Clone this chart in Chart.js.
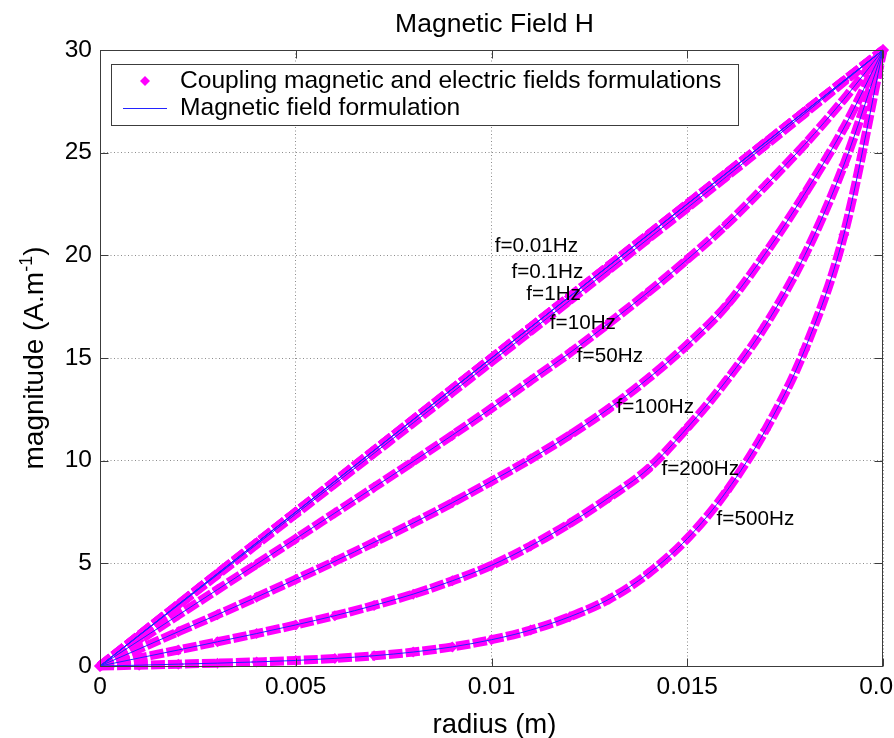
<!DOCTYPE html>
<html>
<head>
<meta charset="utf-8">
<script src="https://cdn.jsdelivr.net/npm/chart.js@4.4.0/dist/chart.umd.min.js"></script>
<style>
html, body { margin: 0; padding: 0; background: #fff; overflow: hidden; }
#wrap { width: 894px; height: 738px; overflow: hidden; }
</style>
</head>
<body>
<div id="wrap"><canvas id="fieldChart" width="920" height="738"></canvas></div>
<script>
// radius samples (m)
const radius = [0, 0.001, 0.002, 0.003, 0.004, 0.005, 0.006, 0.007, 0.008, 0.009, 0.010,
                0.011, 0.012, 0.013, 0.014, 0.015, 0.016, 0.017, 0.018, 0.019, 0.020];

// field magnitude H (A/m) for each frequency
const h001 = [0, 1.5, 3, 4.5, 6, 7.5, 9, 10.5, 12, 13.5, 15, 16.5, 18, 19.5, 21, 22.5, 24, 25.5, 27, 28.5, 30];
const h01  = [0, 1.5, 3, 4.5, 6, 7.5, 9, 10.5, 12, 13.5, 15, 16.5, 18, 19.5, 21, 22.5, 24, 25.5, 27, 28.5, 30];
const h1   = [0, 1.5, 2.99, 4.49, 5.99, 7.49, 8.99, 10.49, 11.99, 13.49, 14.99, 16.49, 17.99, 19.49, 20.99, 22.49, 23.99, 25.49, 27, 28.5, 30];
const h10  = [0, 1.48, 2.96, 4.44, 5.92, 7.4, 8.88, 10.36, 11.84, 13.33, 14.82, 16.31, 17.8, 19.3, 20.8, 22.31, 23.83, 25.36, 26.9, 28.45, 30];
const h50  = [0, 1.24, 2.48, 3.72, 4.96, 6.2, 7.45, 8.7, 9.96, 11.24, 12.55, 13.9, 15.25, 16.7, 18.2, 19.8, 21.5, 23.4, 25.4, 27.6, 30];
const h100 = [0, 0.83, 1.67, 2.5, 3.35, 4.22, 5.1, 6.02, 6.96, 7.95, 9.0, 10.08, 11.25, 12.54, 14.0, 15.64, 17.55, 20.1, 23.0, 26.2, 30];
const h200 = [0, 0.39, 0.78, 1.18, 1.58, 2.0, 2.45, 2.95, 3.5, 4.15, 4.9, 5.85, 6.95, 8.2, 9.6, 11.6, 13.9, 16.6, 20.0, 24.4, 30];
const h500 = [0, 0.04, 0.09, 0.14, 0.2, 0.27, 0.37, 0.5, 0.68, 0.93, 1.28, 1.75, 2.4, 3.25, 4.5, 6.2, 8.5, 11.5, 15.4, 21.0, 30];

const curveNames = ['f=0.01Hz', 'f=0.1Hz', 'f=1Hz', 'f=10Hz', 'f=50Hz', 'f=100Hz', 'f=200Hz', 'f=500Hz'];
// where each frequency tag sits (data units)
const tagR = [0.01008, 0.01051, 0.01089, 0.01149, 0.01218, 0.01319, 0.01434, 0.01575];
const tagH = [20.44, 19.15, 18.09, 16.68, 15.07, 12.58, 9.57, 7.13];

const xTickValues = [0, 0.005, 0.01, 0.015, 0.02];
const xTickLabels = ['0', '0.005', '0.01', '0.015', '0.02'];
const yTickValues = [0, 5, 10, 15, 20, 25, 30];
const yTickLabels = ['0', '5', '10', '15', '20', '25', '30'];

const legendNames = ['Coupling magnetic and electric fields formulations', 'Magnetic field formulation'];

const FONT = '"Liberation Sans", Arial, Helvetica, sans-serif';
const MAGENTA = '#ff00ff';
const BLUE = '#2323ff';
const FRAME = '#3c3c3c';

// build datasets: thick magenta band under thin blue line
let curves = [h001, h01, h1, h10, h50, h100, h200, h500];
let datasets = [];
curves.forEach(function(vals) {
	let pts = radius.map(function(r, i) { return {x: r, y: vals[i]}; });
	datasets.push({
		data: pts,
		order: 0,
		showLine: true,
		borderColor: BLUE,
		borderWidth: 1,
		pointRadius: 0,
		cubicInterpolationMode: 'monotone',
		clip: false
	});
	datasets.push({
		data: pts,
		order: 1,
		showLine: true,
		borderColor: MAGENTA,
		borderWidth: 9,
		borderDash: [14, 3],
		pointStyle: 'rectRot',
		pointRadius: 5.5,
		pointBackgroundColor: MAGENTA,
		pointBorderWidth: 0,
		cubicInterpolationMode: 'monotone',
		clip: false
	});
});

const framePlugin = {
	id: 'matlabFrame',
	afterDatasetsDraw(chart) {
		let ctx = chart.ctx;
		let a = chart.chartArea;
		let xs = chart.scales.x;
		let ys = chart.scales.y;
		ctx.save();

		//frequency tags
		ctx.font = '20.7px ' + FONT;
		ctx.fillStyle = '#000';
		ctx.textAlign = 'left';
		ctx.textBaseline = 'middle';
		curveNames.forEach(function(name, i) {
			ctx.fillText(name, xs.getPixelForValue(tagR[i]), ys.getPixelForValue(tagH[i]));
		});

		//axes box
		let L = Math.round(a.left) + 0.5, R = Math.round(a.right) - 0.5;
		let T = Math.round(a.top) + 0.5, B = Math.round(a.bottom) + 0.5;
		ctx.strokeStyle = FRAME;
		ctx.lineWidth = 1;
		ctx.strokeRect(L, T, R - L, B - T);

		//inward tick marks on all four sides
		let tl = 8;
		ctx.beginPath();
		xTickValues.forEach(function(v) {
			let px = Math.round(xs.getPixelForValue(v)) + 0.5;
			ctx.moveTo(px, B); ctx.lineTo(px, B - tl);
			ctx.moveTo(px, T); ctx.lineTo(px, T + tl);
		});
		yTickValues.forEach(function(v) {
			let py = Math.round(ys.getPixelForValue(v)) + 0.5;
			ctx.moveTo(L, py); ctx.lineTo(L + tl, py);
			ctx.moveTo(R, py); ctx.lineTo(R - tl, py);
		});
		ctx.stroke();

		//legend box
		let lx = a.left + 11, ly = a.top + 14, lw = 627, lh = 61;
		ctx.fillStyle = '#fff';
		ctx.fillRect(lx, ly, lw, lh);
		ctx.strokeStyle = FRAME;
		ctx.strokeRect(Math.round(lx) + 0.5, Math.round(ly) + 0.5, lw, lh);

		let mx = lx + 34, row1 = ly + 17, row2 = ly + 44;
		ctx.fillStyle = MAGENTA;
		ctx.beginPath();
		ctx.moveTo(mx, row1 - 5); ctx.lineTo(mx + 5, row1);
		ctx.lineTo(mx, row1 + 5); ctx.lineTo(mx - 5, row1);
		ctx.closePath();
		ctx.fill();

		ctx.strokeStyle = BLUE;
		ctx.beginPath();
		ctx.moveTo(mx - 22, Math.round(row2) + 0.5);
		ctx.lineTo(mx + 22, Math.round(row2) + 0.5);
		ctx.stroke();

		ctx.fillStyle = '#000';
		ctx.font = '24.6px ' + FONT;
		ctx.textAlign = 'left';
		ctx.textBaseline = 'middle';
		ctx.fillText(legendNames[0], lx + 69, row1);
		ctx.fillText(legendNames[1], lx + 69, row2);

		//title
		ctx.font = '26.5px ' + FONT;
		ctx.textAlign = 'center';
		ctx.textBaseline = 'alphabetic';
		ctx.fillText('Magnetic Field H', (a.left + a.right) / 2 + 3, 32);

		//x axis label
		ctx.font = '27.5px ' + FONT;
		ctx.fillText('radius (m)', (a.left + a.right) / 2 + 3, 733);

		//y axis label with superscript
		let mainTxt = 'magnitude (A.m';
		let supTxt = '-1';
		let endTxt = ')';
		let bigFont = '28px ' + FONT;
		let supFont = '18px ' + FONT;
		ctx.font = bigFont;
		let w1 = ctx.measureText(mainTxt).width;
		let w3 = ctx.measureText(endTxt).width;
		ctx.font = supFont;
		let w2 = ctx.measureText(supTxt).width;
		let total = w1 + w2 + w3;
		ctx.translate(43, (a.top + a.bottom) / 2);
		ctx.rotate(-Math.PI / 2);
		ctx.textAlign = 'left';
		ctx.font = bigFont;
		ctx.fillText(mainTxt, -total / 2, 0);
		ctx.font = supFont;
		ctx.fillText(supTxt, -total / 2 + w1, -11);
		ctx.font = bigFont;
		ctx.fillText(endTxt, -total / 2 + w1 + w2, 0);

		ctx.restore();
	}
};

let ctxC = document.getElementById('fieldChart').getContext('2d');
let fieldChart = new Chart(ctxC, {
	type: 'scatter',
	data: { datasets: datasets },
	options: {
		responsive: false,
		animation: false,
		layout: { padding: { top: 50, right: 37, left: 0, bottom: 0 } },
		plugins: {
			legend: { display: false },
			tooltip: { enabled: false },
			title: { display: false }
		},
		scales: {
			x: {
				type: 'linear',
				min: 0,
				max: 0.02,
				afterBuildTicks: function(s) { s.ticks = xTickValues.map(function(v) { return {value: v}; }); },
				afterFit: function(s) { s.height = 72; },
				ticks: {
					callback: function(v, i) { return xTickLabels[i]; },
					font: { family: FONT, size: 24.5 },
					color: '#000',
					padding: 7,
					maxRotation: 0,
					autoSkip: false
				},
				grid: { color: '#8c8c8c', drawTicks: false, lineWidth: 1 },
				border: { display: false, dash: [1, 2.5] }
			},
			y: {
				type: 'linear',
				min: 0,
				max: 30,
				afterBuildTicks: function(s) { s.ticks = yTickValues.map(function(v) { return {value: v}; }); },
				afterFit: function(s) { s.width = 100; },
				ticks: {
					callback: function(v, i) { return yTickLabels[i]; },
					font: { family: FONT, size: 24.5 },
					color: '#000',
					padding: 8,
					autoSkip: false
				},
				grid: { color: '#8c8c8c', drawTicks: false, lineWidth: 1 },
				border: { display: false, dash: [1, 2.5] }
			}
		}
	},
	plugins: [framePlugin]
});
</script>
</body>
</html>
